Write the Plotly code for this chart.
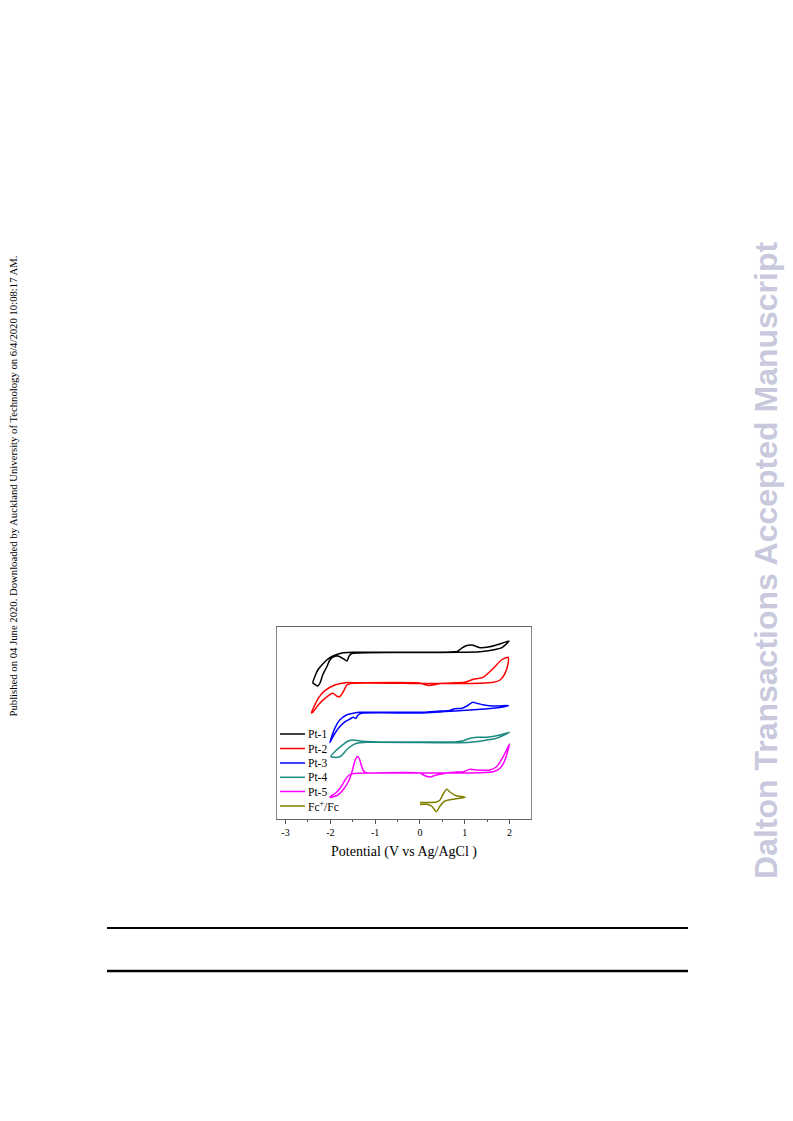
import plotly.graph_objects as go

# ---------------- data (potential in V, current in arbitrary offset units) ----------------
pt1_x = [0, -1.52, -1.58, -1.63, -1.70, -1.83, -1.94, -2.01, -2.08, -2.17, -2.23, -2.28, -2.34, -2.39,
         -2.34, -2.28, -2.19, -2.08, -1.94, -1.74, -1.52, 0, 0.83, 0.94, 1.03, 1.16, 1.34, 1.56, 1.83, 1.99,
         1.83, 1.63, 1.34, 0.89, 0]
pt1_y = [166.5, 165.5, 163, 158, 160, 163, 162, 159, 152, 144, 136, 133, 134.5, 136,
         143, 149, 154, 159, 163, 166, 166.7, 166.7, 167.5, 171, 173.3, 174, 171.3, 172.3, 175.7, 178,
         171.3, 169, 167.3, 166.7, 166.5]

pt2_x = [0, -1.52, -1.63, -1.71, -1.79, -1.86, -1.94, -2.12, -2.27, -2.40,
         -2.42, -2.38, -2.27, -2.12, -1.90, -1.67, -1.45, 0, 0.1, 0.2, 0.35, 0.5,
         1.0, 1.19, 1.41, 1.64, 1.82, 1.97, 1.97, 1.90, 1.79, 1.64, 1.34, 0]
pt2_y = [135.5, 135.7, 134, 127.3, 122.3, 123, 125.7, 120.7, 114, 106.3,
         106.3, 110.7, 120.7, 128.3, 134, 136.3, 136.3, 136, 134.5, 133.5, 134.5, 135.7,
         136.7, 139.7, 141.7, 150.7, 159, 161.7, 155.7, 145.7, 139, 136.7, 135.7, 135.5]

pt3_x = [0, -1.30, -1.38, -1.43, -1.49, -1.56, -1.67, -1.82, -1.94, -2.01,
         -1.97, -1.90, -1.79, -1.64, -1.49, -1.34, 0, 0.45, 0.67, 0.78, 0.94, 1.05, 1.18, 1.29, 1.43, 1.67, 1.98,
         1.79, 1.45, 1.12, 0.78, 0]
pt3_y = [106, 105.7, 104, 100.7, 101.7, 100, 97.3, 90.7, 82.3, 76.3,
         82.3, 90.7, 99, 104, 105.7, 106.7, 106.7, 108, 108.5, 110.3, 110.7, 113, 116.7, 115.5, 114, 113, 113.5,
         111.5, 110, 109, 108, 106]

pt4_x = [0, -1.19, -1.41, -1.52, -1.64, -1.75, -1.83, -1.99,
         -1.86, -1.71, -1.60, -1.49, -1.34, -1.04, 0, 0.83, 0.97, 1.12, 1.27, 1.49, 1.79, 2.0,
         1.71, 1.41, 1.12, 0.89, 0]
pt4_y = [76.5, 76.7, 75.7, 73.3, 69, 63.3, 61.7, 62.3,
         69, 74.7, 78, 79, 78, 77.3, 77, 77.3, 78.3, 80.7, 81.7, 81.7, 84, 86.7,
         80.7, 78.3, 76.7, 76.3, 76.5]

pt5_x = [0, -1.12, -1.22, -1.27, -1.31, -1.35, -1.39, -1.43, -1.47, -1.51, -1.58, -1.70, -1.83, -1.99,
         -2.01, -1.88, -1.76, -1.67, -1.58, -1.47, -1.12, 0, 0.1, 0.22, 0.37, 0.6,
         0.83, 0.97, 1.12, 1.27, 1.56, 1.71, 1.86, 2.0, 1.90, 1.79, 1.64, 1.34, 0]
pt5_y = [46, 46, 46.5, 49, 54, 60, 62.5, 60.5, 55, 48, 39, 30, 24, 21.5,
         22, 26, 32, 39, 44, 45.5, 46, 46, 43.5, 42, 44, 46,
         47, 47.3, 49.7, 49, 49, 52.3, 62.3, 75, 59, 50.7, 47.3, 46.3, 46]

fc_x = [0, 0.37, 0.45, 0.52, 0.60, 0.67, 0.80, 1.01, 0.78, 0.56, 0.45, 0.37, 0.27, 0.18, 0]
fc_y = [16.5, 17, 19, 25, 29.7, 27, 23.5, 21.7, 20, 18, 13, 7.3, 12.5, 14.5, 14.5]

series_names = ["Pt-1", "Pt-2", "Pt-3", "Pt-4", "Pt-5", "Fc<sup>+</sup>/Fc"]
series_colors = ["#000000", "#ff0000", "#0000ff", "#1a8a80", "#ff00ff", "#808000"]
x_ticks = [-3, -2, -1, 0, 1, 2]
x_tick_labels = ["-3", "-2", "-1", "0", "1", "2"]

# ---------------- figure ----------------
W, H = 793, 1121
OFF = 8  # page body margin
L, R, T, B = 277, 531, 627, 819  # plot area in page pixels

def px(x):
    return (x - L) / (R - L)

def py(y):
    return (B - y) / (B - T)

fig = go.Figure()
all_x = [pt1_x, pt2_x, pt3_x, pt4_x, pt5_x, fc_x]
all_y = [pt1_y, pt2_y, pt3_y, pt4_y, pt5_y, fc_y]
for xs, ys, name, col in zip(all_x, all_y, series_names, series_colors):
    fig.add_trace(go.Scatter(x=xs, y=ys, mode="lines", name=name,
                             line=dict(color=col, width=1.5, shape="spline", smoothing=0.6),
                             showlegend=False))

shapes = []
annotations = []
serif = "Liberation Serif"

# legend (manual to match compact spacing)
leg_y = [734, 748.5, 763, 777.3, 791.5, 806]
for name, col, yy in zip(series_names, series_colors, leg_y):
    shapes.append(dict(type="line", xref="paper", yref="paper", x0=px(280), x1=px(305),
                       y0=py(yy), y1=py(yy), line=dict(color=col, width=1.5)))
    annotations.append(dict(xref="paper", yref="paper", x=px(306), y=py(yy), text=name,
                            showarrow=False, xanchor="left", yanchor="middle",
                            font=dict(family=serif, size=11.5, color="#000000")))

# side texts
annotations.append(dict(xref="paper", yref="paper", x=px(12), y=py(486.5), textangle=-90,
                        text="Published on 04 June 2020. Downloaded by Auckland University of Technology on 6/4/2020 10:08:17 AM.",
                        showarrow=False, xanchor="center", yanchor="middle",
                        font=dict(family=serif, size=10.7, color="#000000")))
annotations.append(dict(xref="paper", yref="paper", x=px(766), y=py(560), textangle=-90,
                        text="<b>Dalton Transactions Accepted Manuscript</b>",
                        showarrow=False, xanchor="center", yanchor="middle",
                        font=dict(family="Liberation Sans", size=32, color="#c9c9de")))

# horizontal rules at bottom of page
shapes.append(dict(type="line", xref="paper", yref="paper", x0=px(107), x1=px(688),
                   y0=py(928), y1=py(928), line=dict(color="#000000", width=2)))
shapes.append(dict(type="line", xref="paper", yref="paper", x0=px(107), x1=px(688),
                   y0=py(971), y1=py(971), line=dict(color="#000000", width=2.5)))

fig.update_layout(
    width=W, height=H, autosize=False,
    margin=dict(l=L - OFF, r=W - R + OFF, t=T - OFF, b=H - B + OFF, pad=0),
    paper_bgcolor="white", plot_bgcolor="white",
    shapes=shapes, annotations=annotations,
    showlegend=False,
    xaxis=dict(range=[-3.19, 2.48], tickvals=x_ticks, ticktext=x_tick_labels,
               ticks="outside", ticklen=4, tickwidth=1, tickcolor="#555555",
               minor=dict(ticks="outside", ticklen=2, dtick=0.5, tick0=0, tickcolor="#555555"),
               showline=True, linecolor="#666666", linewidth=1, mirror=True,
               showgrid=False, zeroline=False,
               tickfont=dict(family=serif, size=10, color="#000000"),
               title=dict(text="Potential (V vs Ag/AgCl )", standoff=9,
                          font=dict(family=serif, size=14, color="#000000"))),
    yaxis=dict(range=[0, 192], showticklabels=False, ticks="",
               showline=True, linecolor="#888888", linewidth=1, mirror=True,
               showgrid=False, zeroline=False),
)

fig.write_html("out.html")
